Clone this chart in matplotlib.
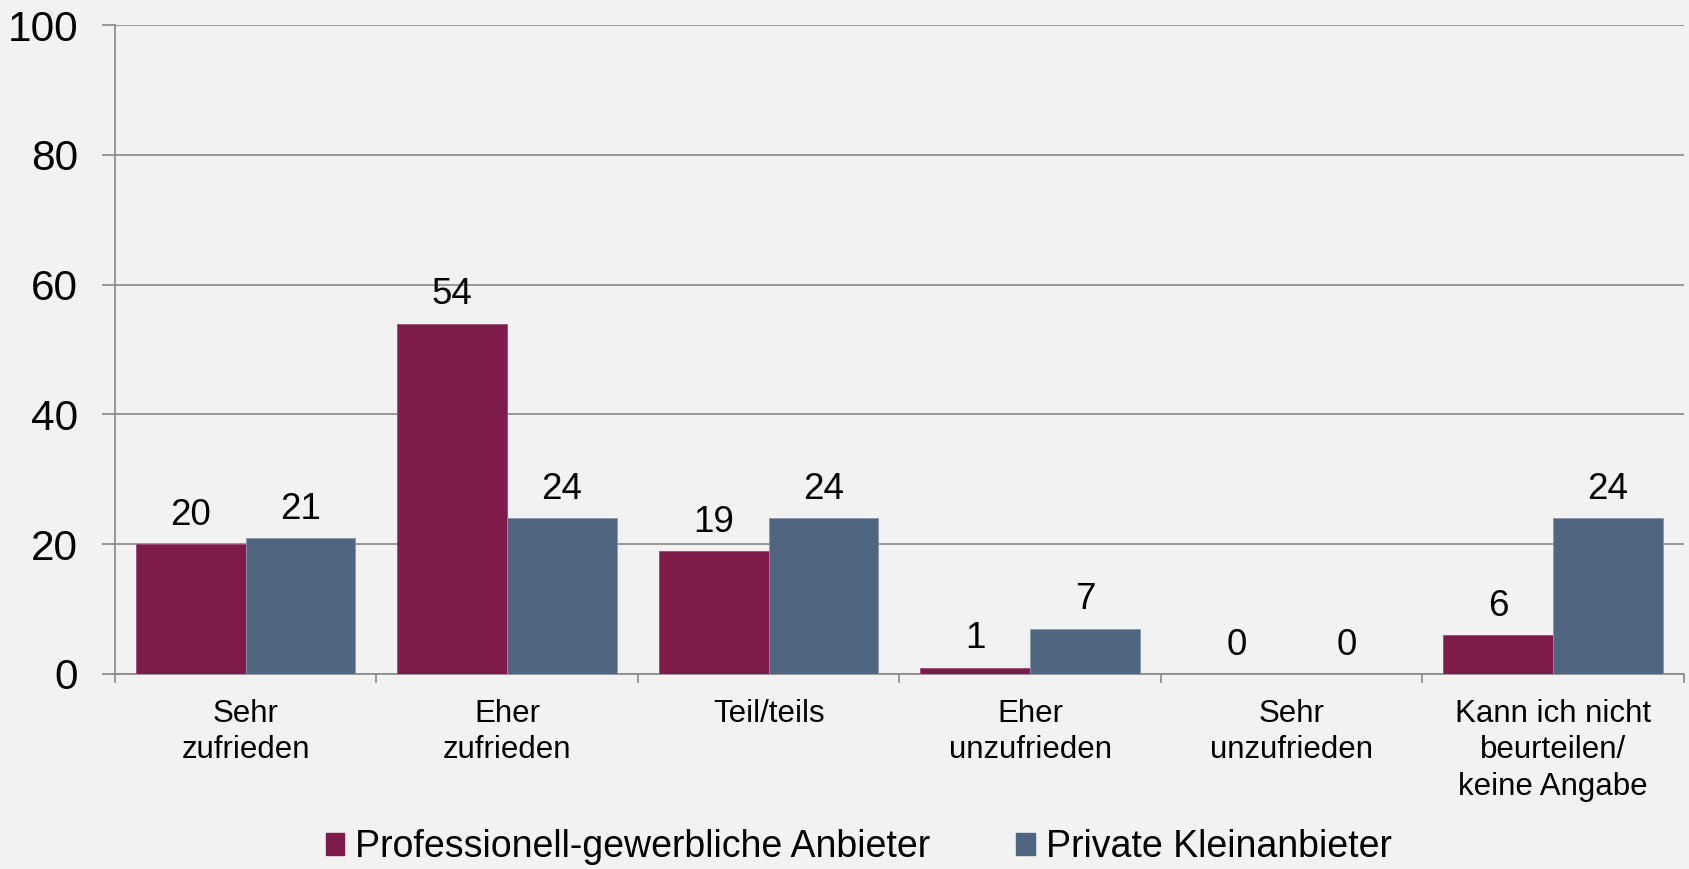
import matplotlib
matplotlib.use("Agg")
import matplotlib.pyplot as plt
import numpy as np
from matplotlib.patches import Patch

categories = ["Sehr\nzufrieden", "Eher\nzufrieden", "Teil/teils", "Eher\nunzufrieden",
              "Sehr\nunzufrieden", "Kann ich nicht\nbeurteilen/\nkeine Angabe"]
series_names = ["Professionell-gewerbliche Anbieter", "Private Kleinanbieter"]
professionell = [20, 54, 19, 1, 0, 6]
privat = [21, 24, 24, 7, 0, 24]
yticks = [0, 20, 40, 60, 80, 100]

plt.rcParams['font.family'] = ['Liberation Sans', 'DejaVu Sans']
bg = "#f2f2f2"
red = "#7d1c4a"
blue = "#4f6580"
grid = "#888888"

fig = plt.figure(figsize=(16.9, 8.69), dpi=100, facecolor=bg)
ax = fig.add_axes([0.068, 0.2244, 0.9284, 0.7468])
ax.set_facecolor(bg)

x = np.arange(len(categories))
w = 0.42
b1 = ax.bar(x + 0.5 - w / 2, professionell, width=w, color=red, edgecolor="#9a4a70", linewidth=0.6, zorder=3)
b2 = ax.bar(x + 0.5 + w / 2, privat, width=w, color=blue, edgecolor="#8797ad", linewidth=0.6, zorder=3)
for bars in (b1, b2):
    ax.bar_label(bars, padding=8, fontsize=26.5, color="black")

ax.set_xlim(0, 6)
ax.set_ylim(0, 100)
ax.set_yticks(yticks)
ax.set_yticklabels([str(v) for v in yticks], fontsize=30.5)
ax.yaxis.grid(True, color=grid, linewidth=1.2, zorder=0)
ax.set_axisbelow(True)

ax.set_xticks(np.arange(0, 7))
ax.set_xticklabels([""] * 7)
ax.set_xticks(x + 0.5, minor=True)
ax.set_xticklabels(categories, minor=True, fontsize=22.5, linespacing=1.28)
ax.tick_params(axis='x', which='minor', length=0, pad=18)
ax.tick_params(axis='x', which='major', length=6.5, width=1.2, color=grid, direction='out')
ax.tick_params(axis='y', length=9.4, width=1.2, color=grid, pad=17)

for s in ['top', 'right']:
    ax.spines[s].set_visible(False)
for s in ['left', 'bottom']:
    ax.spines[s].set_color(grid)
    ax.spines[s].set_linewidth(1.2)

handles = [Patch(facecolor=red, edgecolor=red), Patch(facecolor=blue, edgecolor=blue)]
fig.legend(handles, series_names, loc='center', bbox_to_anchor=(0.508, 0.025), ncol=2,
           frameon=False, fontsize=27, handlelength=0.5, handleheight=0.5,
           handletextpad=0.28, columnspacing=2.3, borderaxespad=0, borderpad=0)

fig.savefig("out.png", dpi=100, facecolor=bg)
